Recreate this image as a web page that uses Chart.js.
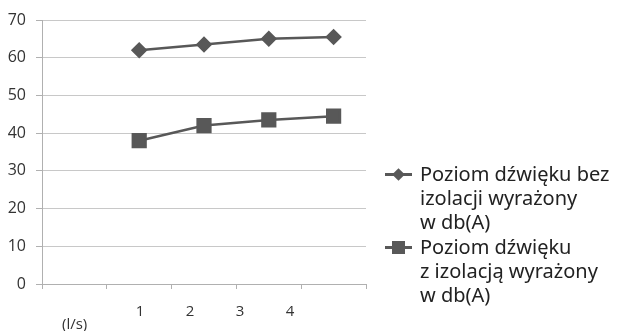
<!DOCTYPE html>
<html>
<head>
<meta charset="utf-8">
<script src="https://cdn.jsdelivr.net/npm/chart.js@4"></script>
<style>
  html, body { margin: 0; padding: 0; background: #fff; }
  #wrap { position: relative; width: 622px; height: 331px; }
  #chart { position: absolute; left: 0; top: 0; }
  .unit { position: absolute; left: 62px; top: 313px; font: 15px "Open Sans", sans-serif; color: #333; }
  #legend { position: absolute; left: 385px; top: 162px; font: 20px "Noto Sans", sans-serif; color: #222; white-space: nowrap; }
  .item { position: relative; padding-left: 35px; line-height: 24.2px; }
  .mk { position: absolute; left: 0; top: 11px; width: 27px; height: 3px; background: #585858; }
  .mk i { position: absolute; left: 7px; top: -5px; width: 13px; height: 13px; background: #585858; }
  .mk i.dia { width: 9px; height: 9px; left: 9px; top: -3px; transform: rotate(45deg); }
</style>
</head>
<body>
<div id="wrap">
  <canvas id="chart" width="622" height="331"></canvas>
  <div class="unit">(l/s)</div>
  <div id="legend"></div>
</div>
<script>
// Flow rate categories (first slot left empty on the axis)
const categories = ['', '1', '2', '3', '4'];
// Numeric labels printed under the horizontal axis
const tickLabels = ['1', '2', '3', '4'];
// Sound level without insulation, dB(A)
const levelWithout = [null, 62, 63.5, 65, 65.5];
// Sound level with insulation, dB(A)
const levelWith = [null, 38, 42, 43.5, 44.5];
const seriesNames = [
  ['Poziom dźwięku bez', 'izolacji wyrażony', 'w db(A)'],
  ['Poziom dźwięku', 'z izolacją wyrażony', 'w db(A)']
];

const ink = '#585858';
const axisFont = { family: '"Open Sans", sans-serif', size: 15 };

new Chart(document.getElementById('chart'), {
  type: 'line',
  data: {
    labels: categories,
    datasets: [
      { label: seriesNames[0].join(' '), data: levelWithout, borderColor: ink, backgroundColor: ink,
        borderWidth: 2.5, pointStyle: 'rectRot', pointRadius: 6.5, pointHoverRadius: 6.5, xAxisID: 'x' },
      { label: seriesNames[1].join(' '), data: levelWith, borderColor: ink, backgroundColor: ink,
        borderWidth: 2.5, pointStyle: 'rect', pointRadius: 9, pointHoverRadius: 9, xAxisID: 'x' }
    ]
  },
  options: {
    responsive: false,
    devicePixelRatio: 1,
    animation: false,
    layout: { padding: { left: 0, right: 256, top: 20, bottom: 0 } },
    plugins: { legend: { display: false }, tooltip: { enabled: false } },
    scales: {
      x: {
        type: 'category',
        position: 'bottom',
        weight: 0,
        offset: true,
        grid: { offset: true, drawOnChartArea: false, drawTicks: true, tickLength: 5, color: '#b0b0b0' },
        border: { color: '#b0b0b0' },
        ticks: { display: false },
        afterFit: s => { s.height = 6; }
      },
      xl: {
        type: 'linear',
        position: 'bottom',
        weight: 1,
        min: -0.96,
        max: 5.52,
        afterBuildTicks: s => { s.ticks = tickLabels.map(t => ({ value: Number(t) })); },
        ticks: { color: '#333', font: axisFont, padding: 13, callback: v => tickLabels[v - 1] },
        grid: { display: false, drawTicks: false },
        border: { display: false },
        afterFit: s => { s.height = 41; }
      },
      y: {
        min: 0,
        max: 70,
        ticks: { stepSize: 10, color: '#333', font: { family: '"Open Sans", sans-serif', size: 16 }, padding: 10 },
        grid: { color: '#c8c8c8', lineWidth: 1, tickLength: 6, tickColor: '#b0b0b0' },
        border: { color: '#b0b0b0' },
        afterFit: s => { s.width = 42; }
      }
    }
  }
});

// Legend beside the plot
const legend = document.getElementById('legend');
seriesNames.forEach((lines, i) => {
  const item = document.createElement('div');
  item.className = 'item';
  const mk = document.createElement('div');
  mk.className = 'mk';
  const dot = document.createElement('i');
  if (i === 0) dot.className = 'dia';
  mk.appendChild(dot);
  item.appendChild(mk);
  lines.forEach((t, k) => {
    if (k) item.appendChild(document.createElement('br'));
    item.appendChild(document.createTextNode(t));
  });
  legend.appendChild(item);
});
</script>
</body>
</html>
